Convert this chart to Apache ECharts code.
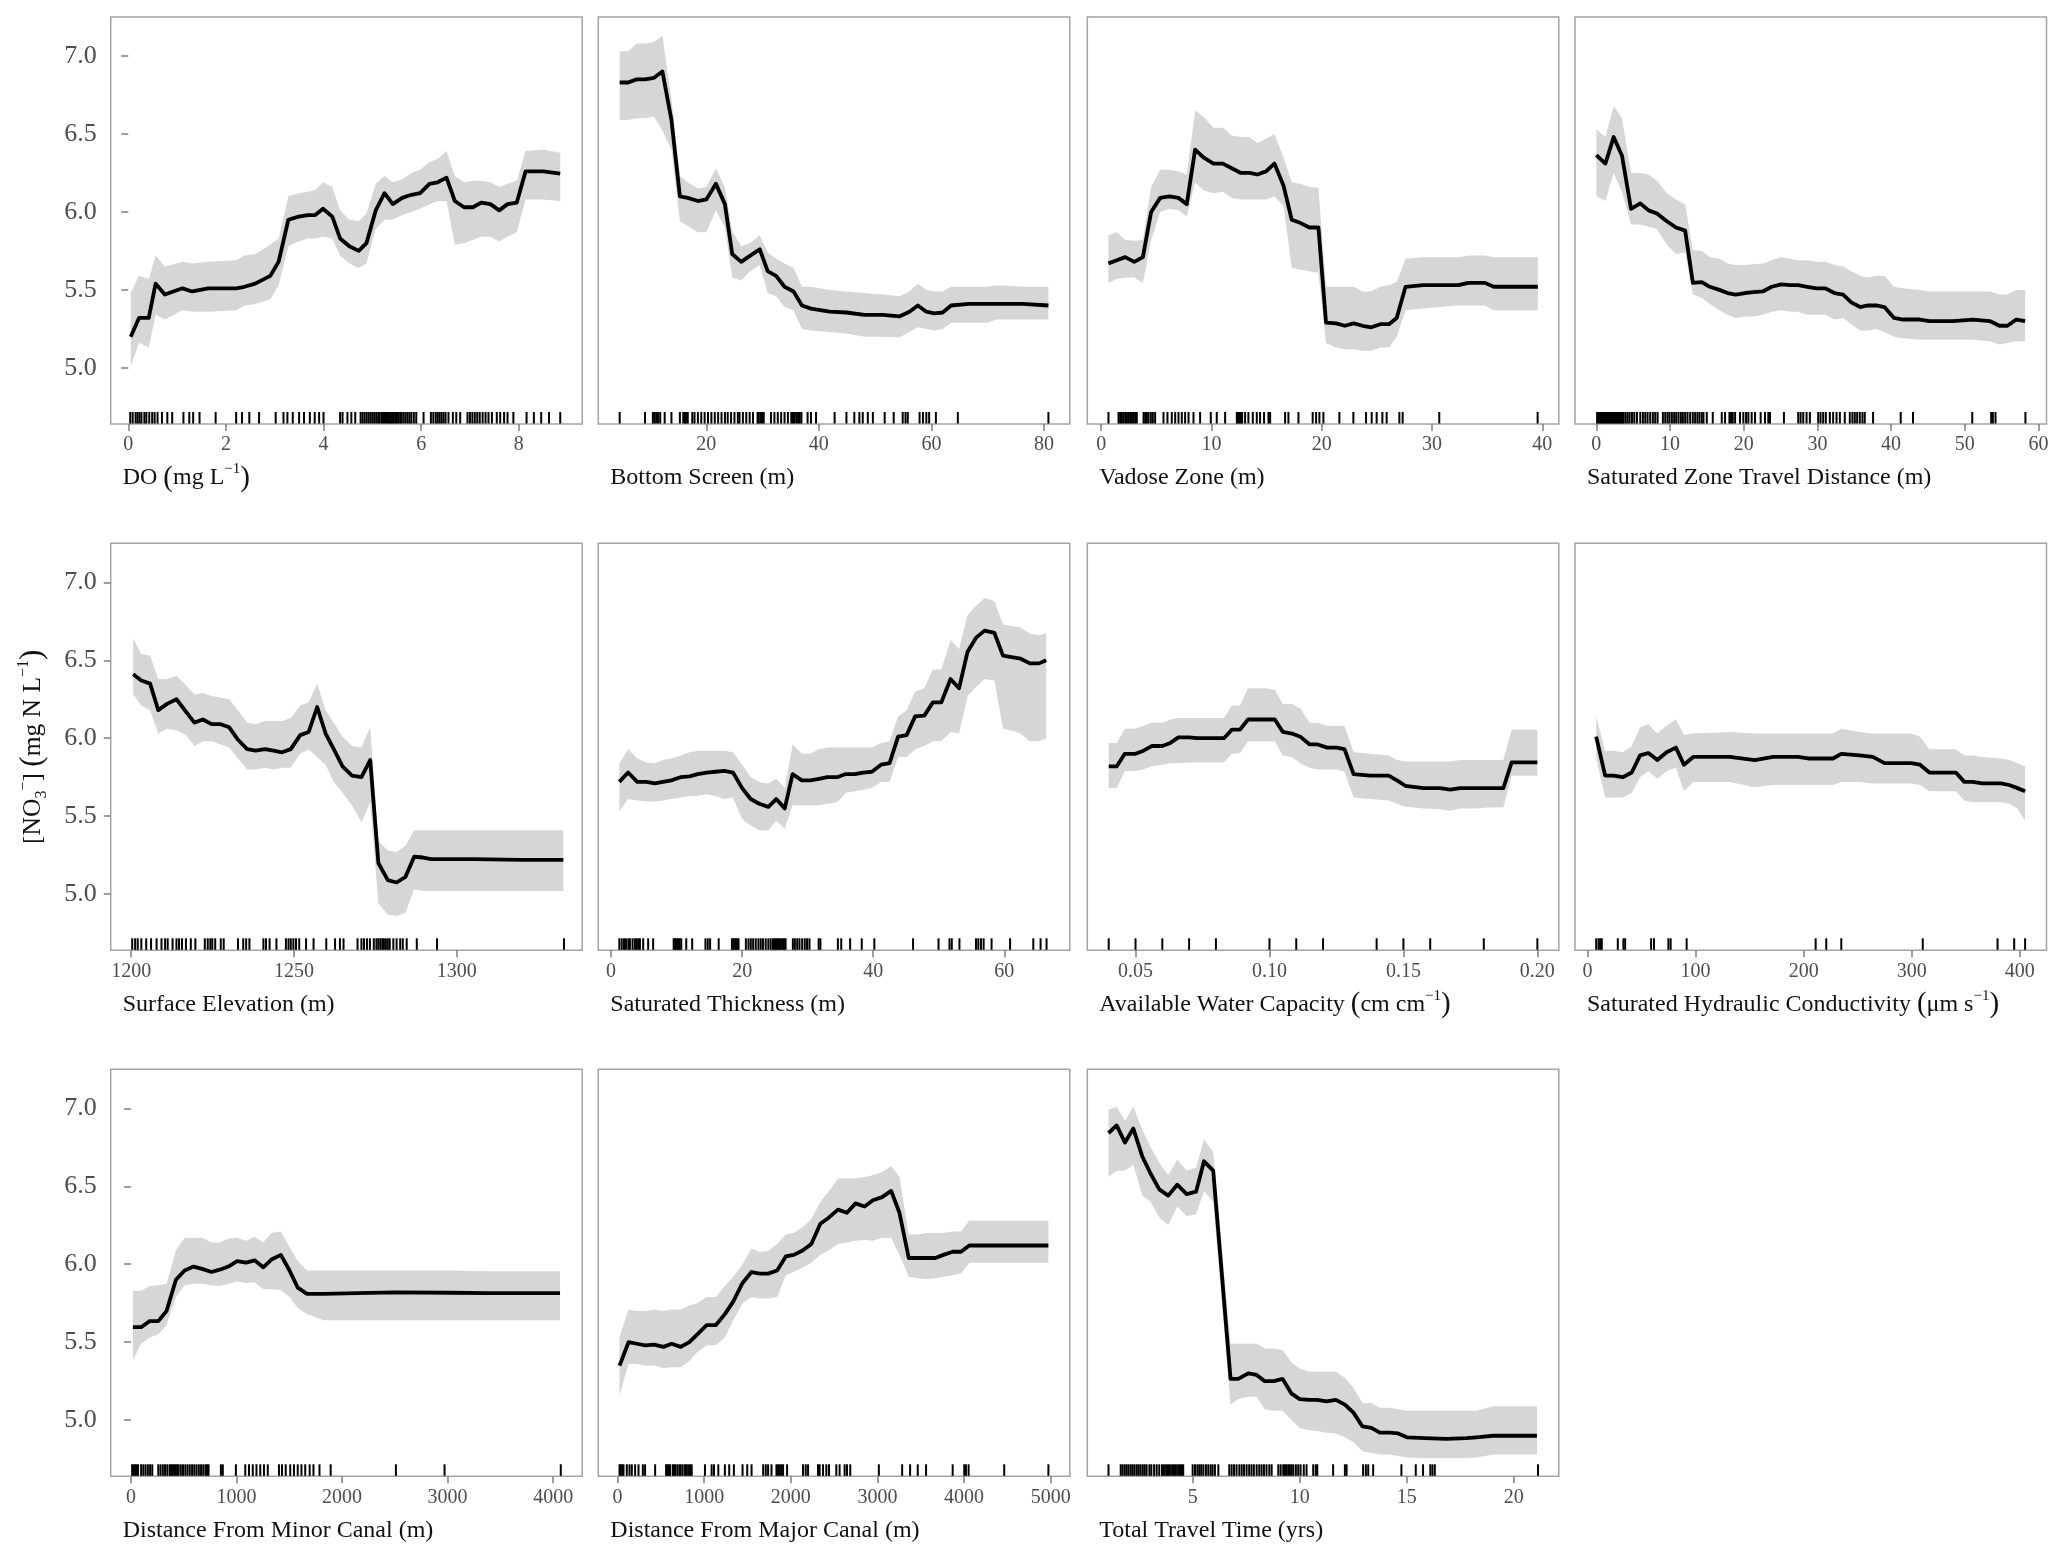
<!DOCTYPE html>
<html><head><meta charset="utf-8">
<script src="https://cdn.jsdelivr.net/npm/echarts@6/dist/echarts.min.js"></script>
<style>html,body{margin:0;padding:0;background:#fff}#c{width:2067px;height:1561px}</style>
</head><body><div id="c"></div>
<script>
// ---------------- DATA ----------------
const yTicks = [5.0, 5.5, 6.0, 6.5, 7.0];
const Y_MIN = 4.64, Y_MAX = 7.25;

// 1. DO
const doX = [0.05,0.22,0.42,0.56,0.75,1.11,1.31,1.64,2.21,2.38,2.60,2.91,3.08,3.28,3.49,3.68,3.83,3.99,4.18,4.34,4.53,4.72,4.88,5.07,5.25,5.42,5.61,5.80,5.98,6.17,6.34,6.52,6.69,6.88,7.06,7.23,7.42,7.60,7.77,7.96,8.14,8.50,8.85];
const doFit = [5.20,5.32,5.32,5.54,5.47,5.51,5.49,5.51,5.51,5.52,5.54,5.59,5.68,5.95,5.97,5.98,5.98,6.02,5.97,5.83,5.78,5.75,5.80,6.01,6.12,6.05,6.09,6.11,6.12,6.18,6.19,6.22,6.07,6.03,6.03,6.06,6.05,6.01,6.05,6.06,6.26,6.26,6.245];
const doUp = [5.48,5.59,5.57,5.72,5.65,5.68,5.67,5.68,5.69,5.72,5.73,5.79,5.83,6.10,6.12,6.13,6.14,6.19,6.16,6.01,5.95,5.94,5.99,6.18,6.23,6.19,6.21,6.25,6.27,6.32,6.34,6.39,6.23,6.19,6.20,6.20,6.19,6.16,6.18,6.20,6.39,6.40,6.38];
const doLo = [5.01,5.16,5.13,5.34,5.31,5.37,5.36,5.36,5.37,5.40,5.41,5.44,5.53,5.78,5.81,5.83,5.83,5.84,5.83,5.72,5.67,5.64,5.67,5.89,5.95,5.95,5.98,6.00,6.02,6.05,6.07,6.07,5.79,5.80,5.82,5.84,5.84,5.81,5.84,5.87,6.08,6.08,6.07];
const doRug = [0.04,0.09,0.15,0.19,0.23,0.27,0.33,0.37,0.43,0.49,0.54,0.6,0.69,0.8,0.9,1.13,1.25,1.33,1.46,1.79,2.21,2.33,2.48,2.68,3.02,3.18,3.26,3.37,3.5,3.6,3.72,3.82,3.91,4.0,4.34,4.39,4.49,4.57,4.65,4.76,4.8,4.84,4.88,4.92,4.96,5.0,5.04,5.08,5.12,5.15,5.19,5.22,5.26,5.29,5.32,5.35,5.38,5.41,5.44,5.47,5.5,5.53,5.57,5.6,5.64,5.68,5.72,5.76,5.8,5.85,5.9,6.05,6.2,6.25,6.3,6.34,6.38,6.42,6.46,6.5,6.56,6.65,6.72,6.8,6.95,7.0,7.05,7.1,7.15,7.2,7.26,7.32,7.38,7.45,7.55,7.62,7.7,7.77,7.89,8.16,8.31,8.46,8.62,8.85];
const doTicks = [0,2,4,6,8];

// 2. Bottom Screen
const bsX = [4.6,6.1,7.6,9.1,10.7,12.2,13.8,15.3,16.7,18.5,20.0,21.7,23.3,24.6,26.2,27.8,29.5,30.9,32.4,33.9,35.5,37.0,38.6,41.9,44.9,48.1,51.4,54.3,56.1,57.6,59.1,60.5,62.0,63.5,66.7,70.0,71.5,76.2,80.8];
const bsFit = [6.83,6.83,6.85,6.85,6.86,6.90,6.59,6.10,6.09,6.07,6.08,6.18,6.05,5.73,5.68,5.72,5.76,5.62,5.59,5.52,5.49,5.40,5.38,5.36,5.355,5.34,5.34,5.33,5.36,5.40,5.36,5.35,5.355,5.40,5.41,5.41,5.41,5.41,5.40];
const bsUp = [7.03,7.03,7.08,7.08,7.09,7.13,6.72,6.23,6.19,6.15,6.16,6.28,6.16,5.88,5.78,5.80,5.85,5.74,5.70,5.67,5.64,5.52,5.52,5.50,5.49,5.48,5.47,5.46,5.49,5.54,5.50,5.49,5.49,5.52,5.52,5.52,5.53,5.52,5.52];
const bsLo = [6.59,6.59,6.60,6.60,6.61,6.52,6.40,5.94,5.91,5.87,5.87,6.01,5.90,5.58,5.56,5.62,5.66,5.48,5.46,5.39,5.37,5.25,5.24,5.23,5.22,5.20,5.20,5.195,5.23,5.26,5.25,5.24,5.25,5.29,5.29,5.29,5.31,5.31,5.31];
const bsRug = [4.6,9.1,10.5,10.8,11.1,11.4,11.8,12.6,13.8,15.3,15.9,16.2,16.4,16.7,17.5,17.9,18.5,19.1,19.7,20.3,20.9,21.5,22.1,22.7,23.3,23.8,24.4,25.0,25.6,25.9,26.5,27.1,27.7,28.3,29.1,29.3,29.6,29.9,30.2,31.5,32.1,32.7,33.3,33.9,34.5,35.1,35.4,35.7,36.0,36.3,36.6,36.9,38.0,38.6,39.5,42.8,44.9,46.3,47.2,47.8,48.7,49.6,51.7,53.3,54.9,55.4,55.8,57.9,58.5,59.1,59.6,60.8,64.7,80.8];
const bsTicks = [20,40,60,80];

// 3. Vadose Zone
const vzX = [0.66,1.42,2.18,3.0,3.78,4.53,5.35,6.19,7.0,7.76,8.52,9.27,10.18,11.03,11.84,12.66,13.44,14.17,14.95,15.71,16.53,17.28,18.04,18.88,19.70,20.39,21.3,22.1,22.9,23.7,24.5,25.3,26.1,26.8,27.6,29.2,30.7,32.4,33.3,34.8,35.6,37.4,39.6];
const vzFit = [5.67,5.69,5.71,5.68,5.71,6.00,6.09,6.10,6.09,6.05,6.40,6.35,6.31,6.31,6.28,6.25,6.25,6.24,6.26,6.31,6.17,5.95,5.93,5.90,5.90,5.29,5.285,5.27,5.285,5.27,5.26,5.28,5.28,5.32,5.52,5.53,5.53,5.53,5.545,5.545,5.52,5.52,5.52];
const vzUp = [5.85,5.87,5.82,5.815,5.82,6.16,6.27,6.27,6.26,6.24,6.65,6.61,6.54,6.54,6.49,6.48,6.48,6.44,6.47,6.50,6.35,6.19,6.18,6.16,6.155,5.52,5.52,5.52,5.52,5.49,5.49,5.52,5.53,5.55,5.70,5.71,5.71,5.71,5.72,5.72,5.71,5.71,5.71];
const vzLo = [5.545,5.57,5.58,5.58,5.545,5.82,6.00,6.02,6.01,5.97,6.19,6.14,6.12,6.13,6.09,6.08,6.08,6.08,6.08,6.10,6.04,5.64,5.63,5.62,5.61,5.16,5.13,5.12,5.12,5.11,5.11,5.13,5.13,5.20,5.37,5.38,5.39,5.40,5.40,5.40,5.37,5.37,5.37];
const vzRug = [0.66,1.57,1.72,1.87,2.02,2.18,2.33,2.48,2.63,2.78,2.93,3.08,3.23,3.84,3.99,4.14,4.29,4.5,4.68,4.89,5.65,6.01,6.4,6.71,7.01,7.31,7.61,7.92,8.37,8.97,9.94,10.48,11.24,12.3,12.42,12.54,12.66,12.78,13.05,13.35,13.75,14.11,14.41,14.77,15.17,15.32,16.68,16.98,17.89,19.18,19.49,19.79,20.15,21.6,22.87,24.02,24.53,24.98,25.5,25.89,27.04,27.34,30.66,39.58];
const vzTicks = [0,10,20,30,40];

// 4. Saturated Zone Travel Distance
const szX = [0,1.22,2.35,3.48,4.7,5.96,7.09,8.22,9.57,10.8,12.05,13.1,14.3,15.4,16.7,17.8,18.9,20.2,21.3,22.6,23.8,25.1,26.3,27.4,28.6,29.9,31.1,32.3,33.5,34.6,35.8,36.9,38.0,39.1,40.4,41.6,43.9,45.2,48.4,51.1,53.4,54.7,55.8,57.0,58.2];
const szFit = [6.365,6.31,6.48,6.36,6.02,6.055,6.01,5.99,5.94,5.90,5.88,5.545,5.55,5.52,5.50,5.48,5.47,5.48,5.485,5.49,5.52,5.535,5.53,5.53,5.52,5.51,5.51,5.48,5.47,5.42,5.39,5.40,5.40,5.39,5.32,5.31,5.31,5.30,5.30,5.31,5.30,5.27,5.27,5.31,5.30];
const szUp = [6.53,6.48,6.68,6.60,6.25,6.25,6.24,6.20,6.12,6.08,6.05,5.755,5.75,5.71,5.70,5.67,5.66,5.66,5.665,5.67,5.69,5.71,5.70,5.69,5.69,5.68,5.68,5.66,5.65,5.62,5.59,5.58,5.59,5.59,5.52,5.51,5.50,5.49,5.49,5.49,5.49,5.47,5.47,5.50,5.50];
const szLo = [6.10,6.07,6.25,6.13,5.92,5.92,5.905,5.89,5.79,5.73,5.74,5.47,5.45,5.41,5.37,5.34,5.32,5.33,5.33,5.34,5.36,5.37,5.36,5.36,5.34,5.34,5.34,5.31,5.32,5.28,5.24,5.24,5.25,5.23,5.20,5.19,5.18,5.18,5.18,5.18,5.17,5.15,5.16,5.17,5.17];
const szRug = [0.1,0.27,0.45,0.63,0.81,0.99,1.17,1.35,1.53,1.72,1.9,2.08,2.26,2.44,2.62,2.8,2.98,3.16,3.34,3.52,3.7,3.97,4.24,4.51,4.83,5.15,5.51,5.96,6.32,6.64,6.95,7.31,7.67,7.99,8.31,9.03,9.35,9.66,9.93,10.25,10.56,10.84,11.15,11.47,11.74,12.05,12.37,12.73,13.09,13.41,13.72,14.0,14.31,14.54,14.99,15.8,17.02,17.47,18.06,18.28,18.51,18.83,19.5,19.95,20.32,20.63,21.08,21.54,22.3,22.89,23.34,23.57,25.46,27.4,27.72,28.08,28.53,28.98,30.11,30.43,30.79,31.15,31.69,32.14,32.6,33.05,33.72,34.4,34.76,35.08,35.4,35.76,36.12,36.43,37.56,41.31,42.98,51.02,53.59,53.82,54.18,58.24];
const szTicks = [0,10,20,30,40,50,60];

// 5. Surface Elevation
const seX = [1200.6,1203.1,1205.8,1208.3,1211.0,1213.9,1216.8,1219.4,1222.0,1224.7,1227.5,1230.1,1232.8,1235.6,1238.2,1241.1,1243.7,1246.3,1249.0,1251.9,1254.5,1257.1,1259.7,1262.2,1264.9,1267.8,1270.7,1273.4,1275.9,1278.8,1281.5,1284.2,1286.9,1289.6,1292.1,1304.9,1319.9,1332.7];
const seFit = [6.41,6.37,6.35,6.18,6.22,6.25,6.17,6.10,6.12,6.09,6.09,6.07,5.99,5.93,5.92,5.93,5.92,5.91,5.93,6.02,6.04,6.20,6.03,5.93,5.82,5.76,5.75,5.86,5.20,5.09,5.075,5.11,5.24,5.235,5.225,5.225,5.22,5.22];
const seUp = [6.64,6.54,6.53,6.38,6.38,6.40,6.34,6.28,6.29,6.27,6.26,6.25,6.18,6.10,6.09,6.11,6.11,6.11,6.13,6.21,6.23,6.35,6.18,6.10,6.01,5.95,5.94,6.07,5.34,5.28,5.27,5.31,5.41,5.41,5.41,5.41,5.41,5.41];
const seLo = [6.28,6.21,6.18,6.03,6.06,6.05,6.02,5.95,5.98,5.98,5.96,5.94,5.87,5.80,5.80,5.81,5.80,5.81,5.81,5.90,5.93,5.88,5.83,5.72,5.65,5.57,5.46,5.59,4.94,4.87,4.86,4.88,5.03,5.02,5.02,5.02,5.02,5.02];
const seRug = [1200.3,1201.2,1202.0,1203.1,1204.6,1206.1,1207.8,1209.3,1210.4,1211.2,1212.7,1213.9,1214.7,1215.6,1216.8,1218.3,1219.7,1222.6,1223.5,1224.3,1224.9,1225.8,1227.5,1228.4,1232.8,1234.4,1235.3,1236.3,1240.6,1241.4,1242.5,1244.6,1247.5,1248.3,1249.0,1249.8,1250.6,1251.6,1253.7,1256.0,1259.9,1262.6,1264.1,1265.2,1269.5,1270.7,1271.5,1272.4,1273.3,1274.5,1275.3,1275.9,1276.5,1277.1,1277.6,1278.2,1278.8,1279.4,1280.5,1281.5,1282.6,1283.4,1284.6,1287.7,1293.9,1332.9];
const seTicks = [1200,1250,1300];

// 6. Saturated Thickness
const stX = [1.26,2.6,4.0,5.4,6.7,7.9,9.2,10.6,12.0,13.2,14.6,15.9,17.3,18.6,20.0,21.3,22.6,24.0,25.2,26.5,27.7,29.1,30.4,31.7,33.0,34.5,35.8,37.2,38.5,39.8,41.2,42.5,43.8,45.1,46.4,47.8,49.1,50.4,51.8,53.1,54.4,55.7,57.0,58.5,59.8,61.1,62.5,63.9,65.3,66.4];
const stFit = [5.72,5.78,5.72,5.72,5.71,5.72,5.73,5.75,5.755,5.77,5.78,5.785,5.79,5.78,5.68,5.61,5.58,5.56,5.61,5.55,5.77,5.73,5.73,5.74,5.75,5.75,5.77,5.77,5.78,5.785,5.83,5.84,6.01,6.02,6.14,6.145,6.23,6.23,6.38,6.32,6.555,6.645,6.69,6.675,6.53,6.52,6.51,6.48,6.48,6.50];
const stUp = [5.84,5.93,5.87,5.845,5.84,5.86,5.87,5.89,5.91,5.92,5.92,5.92,5.92,5.91,5.83,5.75,5.72,5.71,5.74,5.68,5.96,5.90,5.90,5.93,5.94,5.94,5.94,5.94,5.94,5.94,5.97,5.98,6.14,6.18,6.30,6.32,6.44,6.44,6.63,6.57,6.79,6.85,6.90,6.88,6.73,6.72,6.71,6.67,6.66,6.675];
const stLo = [5.53,5.61,5.60,5.595,5.595,5.60,5.61,5.62,5.63,5.63,5.64,5.63,5.61,5.62,5.48,5.44,5.41,5.41,5.47,5.42,5.57,5.57,5.57,5.57,5.58,5.59,5.65,5.66,5.67,5.68,5.72,5.72,5.88,5.88,5.93,5.95,5.98,5.98,6.04,6.03,6.27,6.33,6.38,6.37,6.06,6.05,6.03,5.98,5.98,6.00];
const stRug = [1.26,1.62,1.97,2.27,2.63,2.88,3.28,3.64,3.89,4.14,4.4,4.9,5.66,6.42,9.55,9.7,9.85,10.06,10.26,10.46,10.71,11.47,12.38,14.4,14.75,15.11,16.42,18.44,18.65,18.85,19.05,19.25,19.45,20.57,20.97,21.32,21.68,22.08,22.49,22.84,23.19,23.6,24.0,24.36,24.71,25.01,25.21,25.42,25.62,25.87,26.12,26.38,26.63,27.74,28.04,28.4,28.75,29.16,29.56,29.91,30.27,31.68,31.94,34.61,35.12,36.48,38.25,40.17,46.08,49.97,51.64,51.99,53.16,55.68,56.04,56.44,56.85,58.06,60.89,64.43,65.54,66.45];
const stTicks = [0,20,40,60];

// 7. Available Water Capacity
const awX = [0.040,0.043,0.046,0.050,0.053,0.056,0.060,0.063,0.066,0.070,0.073,0.0765,0.080,0.083,0.086,0.089,0.092,0.0953,0.0988,0.102,0.105,0.1084,0.1115,0.115,0.118,0.1215,0.125,0.128,0.1314,0.1376,0.1445,0.1476,0.1507,0.1575,0.1637,0.1675,0.1712,0.1774,0.1811,0.1873,0.1904,0.200];
const awFit = [5.82,5.82,5.90,5.90,5.92,5.95,5.95,5.97,6.005,6.005,6.00,6.00,6.00,6.00,6.055,6.055,6.12,6.12,6.12,6.12,6.04,6.03,6.01,5.96,5.96,5.94,5.94,5.93,5.77,5.76,5.76,5.73,5.695,5.68,5.68,5.67,5.68,5.68,5.68,5.68,5.845,5.845];
const awUp = [5.97,5.97,6.06,6.06,6.08,6.10,6.10,6.12,6.13,6.13,6.13,6.13,6.13,6.13,6.21,6.21,6.32,6.32,6.32,6.31,6.22,6.22,6.19,6.10,6.10,6.08,6.08,6.08,5.91,5.90,5.89,5.86,5.85,5.85,5.85,5.85,5.86,5.86,5.86,5.86,6.055,6.055];
const awLo = [5.68,5.68,5.79,5.79,5.80,5.82,5.83,5.84,5.84,5.845,5.845,5.845,5.845,5.845,5.90,5.905,5.98,5.98,5.98,5.98,5.89,5.88,5.84,5.81,5.80,5.80,5.80,5.785,5.62,5.61,5.60,5.58,5.56,5.55,5.545,5.535,5.55,5.55,5.555,5.555,5.76,5.76];
const awRug = [0.040,0.050,0.060,0.070,0.080,0.100,0.110,0.120,0.140,0.150,0.160,0.180,0.200];
const awTicks = [0.05,0.10,0.15,0.20];

// 8. Saturated Hydraulic Conductivity
const ksX = [8,16.3,24,32.6,40.9,48.6,56.3,64.6,73.2,81.8,89.2,97.8,131.7,154.8,171.7,194.8,204.0,227.1,234.8,251.7,264.0,274.8,299.4,307.7,316.3,340.9,348.6,356.3,365.5,382.5,390.2,397.8,404.9];
const ksFit = [6.01,5.76,5.76,5.75,5.78,5.89,5.905,5.86,5.91,5.94,5.83,5.88,5.88,5.86,5.88,5.88,5.87,5.87,5.90,5.89,5.88,5.84,5.84,5.83,5.78,5.78,5.72,5.72,5.71,5.71,5.70,5.68,5.66];
const ksUp = [6.14,5.92,5.92,5.91,5.95,6.07,6.09,6.03,6.08,6.12,6.02,6.03,6.04,6.03,6.03,6.03,6.03,6.03,6.06,6.04,6.03,6.03,6.03,6.01,5.93,5.93,5.89,5.89,5.88,5.87,5.86,5.84,5.82];
const ksLo = [5.87,5.62,5.62,5.62,5.65,5.75,5.79,5.74,5.79,5.81,5.66,5.72,5.72,5.685,5.70,5.70,5.70,5.70,5.72,5.72,5.71,5.71,5.71,5.70,5.66,5.66,5.60,5.59,5.59,5.59,5.58,5.55,5.47];
const ksRug = [8,10.2,11.7,13.2,28,33.2,34.8,58.8,61.5,74.8,76.9,91.7,211.1,220.9,234.8,310.2,379.4,394.8,404.9];
const ksTicks = [0,100,200,300,400];

// 9. Distance From Minor Canal
const mnX = [18,96,177,259,337,426,508,593,674,763,841,923,1005,1090,1171,1253,1331,1420,1502,1580,1668,1828,2148,2503,3035,3390,4065];
const mnFit = [5.596,5.596,5.635,5.635,5.70,5.90,5.96,5.985,5.97,5.95,5.965,5.985,6.02,6.01,6.025,5.98,6.03,6.06,5.96,5.85,5.81,5.81,5.815,5.82,5.817,5.815,5.815];
const mnUp = [5.83,5.83,5.86,5.865,5.875,6.09,6.17,6.17,6.17,6.14,6.14,6.165,6.17,6.15,6.175,6.14,6.20,6.21,6.11,6.02,5.96,5.96,5.96,5.96,5.96,5.955,5.955];
const mnLo = [5.385,5.49,5.53,5.55,5.61,5.79,5.865,5.875,5.875,5.865,5.86,5.875,5.89,5.88,5.885,5.84,5.84,5.835,5.79,5.72,5.68,5.64,5.64,5.64,5.64,5.64,5.64];
const mnRug = [11,25,39,53,67,96,117,138,160,181,202,259,280,302,323,344,366,380,394,408,422,437,451,472,493,515,536,557,579,600,621,643,664,685,706,721,735,852,870,994,1083,1118,1154,1189,1225,1260,1296,1402,1431,1466,1509,1544,1580,1615,1651,1693,1729,1786,1892,2510,2971,4072];
const mnTicks = [0,1000,2000,3000,4000];

// 10. Distance From Major Canal
const mjX = [23,127,223,318,422,530,625,729,829,921,1028,1136,1239,1335,1443,1546,1642,1738,1842,1942,2034,2141,2237,2341,2441,2544,2648,2747,2851,2947,3054,3158,3254,3361,3465,3561,3668,3761,3868,3964,4060,4290,4597,4973];
const mjFit = [5.35,5.50,5.49,5.48,5.485,5.47,5.49,5.47,5.50,5.55,5.61,5.61,5.68,5.76,5.88,5.95,5.94,5.94,5.96,6.05,6.06,6.09,6.13,6.26,6.30,6.35,6.33,6.39,6.37,6.41,6.43,6.47,6.33,6.04,6.04,6.04,6.04,6.06,6.08,6.08,6.12,6.12,6.12,6.12];
const mjUp = [5.535,5.71,5.70,5.70,5.71,5.70,5.71,5.71,5.735,5.75,5.79,5.79,5.86,5.92,6.00,6.10,6.08,6.085,6.13,6.19,6.20,6.24,6.29,6.40,6.47,6.55,6.55,6.55,6.56,6.57,6.59,6.63,6.56,6.19,6.19,6.20,6.20,6.20,6.21,6.21,6.28,6.28,6.28,6.28];
const mjLo = [5.16,5.36,5.36,5.35,5.35,5.335,5.34,5.34,5.38,5.435,5.48,5.48,5.53,5.64,5.75,5.79,5.78,5.78,5.79,5.93,5.95,5.98,6.01,6.06,6.09,6.13,6.14,6.15,6.155,6.15,6.17,6.17,6.06,5.92,5.91,5.905,5.91,5.92,5.93,5.94,6.01,6.01,6.01,6.01];
const mjRug = [23,38,54,69,107,138,165,203,242,292,318,434,560,576,591,606,637,652,668,691,714,729,752,779,798,817,837,856,1009,1086,1113,1163,1239,1289,1343,1443,1497,1547,1681,1711,1738,1777,1834,1853,1873,1892,1911,1957,2141,2172,2199,2314,2333,2372,2410,2441,2525,2563,2621,2648,2686,3016,3285,3377,3465,3561,3868,4002,4021,4052,4463,4973];
const mjTicks = [0,1000,2000,3000,4000,5000];

// 11. Total Travel Time
const ttX = [1.07,1.45,1.84,2.23,2.65,3.04,3.44,3.86,4.28,4.72,5.16,5.53,5.96,6.77,7.13,7.60,7.99,8.37,8.79,9.20,9.62,10.0,10.44,10.82,11.25,11.69,12.11,12.50,12.93,13.35,13.74,14.18,14.6,15.0,15.84,16.85,17.78,18.25,19.03,19.96,21.08];
const ttFit = [6.84,6.89,6.78,6.87,6.69,6.58,6.48,6.44,6.51,6.45,6.465,6.66,6.60,5.265,5.265,5.30,5.29,5.25,5.25,5.265,5.17,5.135,5.13,5.13,5.12,5.13,5.10,5.05,4.96,4.95,4.92,4.92,4.915,4.89,4.885,4.88,4.885,4.89,4.90,4.90,4.90];
const ttUp = [6.99,7.01,6.92,7.01,6.86,6.75,6.65,6.57,6.67,6.60,6.62,6.80,6.72,5.49,5.49,5.49,5.49,5.46,5.46,5.45,5.37,5.33,5.31,5.31,5.31,5.31,5.27,5.21,5.11,5.11,5.08,5.08,5.07,5.06,5.06,5.06,5.06,5.06,5.09,5.09,5.09];
const ttLo = [6.56,6.60,6.60,6.64,6.44,6.40,6.30,6.25,6.37,6.31,6.32,6.47,6.40,5.10,5.135,5.15,5.15,5.07,5.06,5.06,5.00,4.95,4.935,4.93,4.92,4.915,4.89,4.86,4.80,4.79,4.78,4.78,4.77,4.76,4.755,4.755,4.755,4.76,4.78,4.78,4.78];
const ttRug = [1.07,1.64,1.73,1.83,1.92,2.01,2.11,2.2,2.29,2.39,2.48,2.57,2.67,2.76,2.85,2.98,3.07,3.2,3.32,3.44,3.57,3.66,3.76,3.85,3.94,4.04,4.13,4.22,4.32,4.41,4.5,4.56,5.0,5.11,5.22,5.31,5.4,5.5,5.62,5.73,5.84,5.93,6.04,6.2,6.71,6.82,6.93,7.05,7.18,7.29,7.4,7.52,7.64,7.75,7.86,7.99,8.11,8.22,8.33,8.45,8.58,8.69,9.0,9.11,9.23,9.31,9.39,9.47,9.54,9.62,9.7,9.82,9.93,10.04,10.19,10.32,10.63,10.75,10.82,11.56,12.11,12.19,12.96,13.09,13.2,13.43,14.75,15.42,15.76,16.1,16.2,16.31,21.13];
const ttTicks = [5,10,15,20];

// axis titles (rich text: s = superscript, d = subscript, b = large paren)
const titles = [
  'DO {b|(}mg L{s|−1}{b|)}',
  'Bottom Screen (m)',
  'Vadose Zone (m)',
  'Saturated Zone Travel Distance (m)',
  'Surface Elevation (m)',
  'Saturated Thickness (m)',
  'Available Water Capacity {b|(}cm cm{s|−1}{b|)}',
  'Saturated Hydraulic Conductivity {b|(}μm s{s|−1}{b|)}',
  'Distance From Minor Canal (m)',
  'Distance From Major Canal (m)',
  'Total Travel Time (yrs)'
];
const yTitle = '[NO{d|3}{s|−}] {b|(}mg N L{s|−1}{b|)}';

// ---------------- LAYOUT / STYLE ----------------
const FONT = '"Liberation Serif","Times New Roman",serif';
const COL_L = [110.7, 598.3, 1087.3, 1575];
const ROW_T = [17, 543.3, 1069.3];
const PW = 471.5, PH = 407;
const RUG_LEN = 12;

const panels = [
  {x:doX, f:doFit, u:doUp, l:doLo, r:doRug, t:doTicks, min:-0.36, max:9.3, dec:0},
  {x:bsX, f:bsFit, u:bsUp, l:bsLo, r:bsRug, t:bsTicks, min:0.8, max:84.6, dec:0},
  {x:vzX, f:vzFit, u:vzUp, l:vzLo, r:vzRug, t:vzTicks, min:-1.26, max:41.5, dec:0},
  {x:szX, f:szFit, u:szUp, l:szLo, r:szRug, t:szTicks, min:-2.9, max:61.1, dec:0},
  {x:seX, f:seFit, u:seUp, l:seLo, r:seRug, t:seTicks, min:1193.7, max:1338.5, dec:0},
  {x:stX, f:stFit, u:stUp, l:stLo, r:stRug, t:stTicks, min:-1.95, max:70.0, dec:0},
  {x:awX, f:awFit, u:awUp, l:awLo, r:awRug, t:awTicks, min:0.032, max:0.208, dec:2},
  {x:ksX, f:ksFit, u:ksUp, l:ksLo, r:ksRug, t:ksTicks, min:-11.6, max:424.7, dec:0},
  {x:mnX, f:mnFit, u:mnUp, l:mnLo, r:mnRug, t:mnTicks, min:-192, max:4275, dec:0},
  {x:mjX, f:mjFit, u:mjUp, l:mjLo, r:mjRug, t:mjTicks, min:-222, max:5220, dec:0},
  {x:ttX, f:ttFit, u:ttUp, l:ttLo, r:ttRug, t:ttTicks, min:0.08, max:22.1, dec:0}
];

const richStyles = {
  s: {fontSize: 15, fontFamily: FONT, fill: '#111', verticalAlign: 'top'},
  d: {fontSize: 15, fontFamily: FONT, fill: '#111', verticalAlign: 'bottom'},
  b: {fontSize: 29, fontFamily: FONT, fill: '#111', lineHeight: 32}
};

const grids = [], xAxes = [], yAxes = [], series = [], graphics = [];

panels.forEach((p, i) => {
  const col = i % 4, row = Math.floor(i / 4);
  const left = COL_L[col], top = ROW_T[row];
  grids.push({left: left, top: top, width: PW, height: PH, show: true,
    borderColor: '#a3a3a3', borderWidth: 1.5, backgroundColor: 'transparent', containLabel: false});
  xAxes.push({type: 'value', gridIndex: i, min: p.min, max: p.max,
    axisLine: {show: false}, splitLine: {show: false},
    axisTick: {show: true, length: 7, customValues: p.t, lineStyle: {color: '#7f7f7f', width: 1.5}},
    axisLabel: {customValues: p.t, color: '#4d4d4d', fontSize: 20, fontFamily: FONT, margin: 11,
      formatter: v => p.dec ? v.toFixed(p.dec) : String(v)}
  });
  const showY = col === 0;
  yAxes.push({type: 'value', gridIndex: i, min: Y_MIN, max: Y_MAX,
    axisLine: {show: false}, splitLine: {show: false},
    axisTick: {show: showY, length: 7, customValues: yTicks, lineStyle: {color: '#7f7f7f', width: 1.5}},
    axisLabel: {show: showY, customValues: yTicks, color: '#4d4d4d', fontSize: 26, fontFamily: FONT, margin: 14,
      formatter: v => v.toFixed(1)}
  });
  // confidence band
  series.push({type: 'custom', xAxisIndex: i, yAxisIndex: i, z: 1, silent: true, clip: false,
    data: p.x.map((v, k) => [v, p.l[k], p.u[k]]),
    renderItem: (params, api) => {
      if (params.dataIndex !== 0) return null;
      const pts = [];
      for (let k = 0; k < p.x.length; k++) pts.push(api.coord([p.x[k], p.u[k]]));
      for (let k = p.x.length - 1; k >= 0; k--) pts.push(api.coord([p.x[k], p.l[k]]));
      return {type: 'polygon', shape: {points: pts}, style: {fill: '#d6d6d6'}};
    }
  });
  // rug
  series.push({type: 'custom', xAxisIndex: i, yAxisIndex: i, z: 2, silent: true, clip: false,
    encode: {x: 0},
    data: p.r.map(v => [v]),
    renderItem: (params, api) => {
      const q = api.coord([api.value(0), Y_MIN]);
      return {type: 'line', shape: {x1: q[0], y1: q[1] - 0.5, x2: q[0], y2: q[1] - RUG_LEN},
        style: {stroke: '#000', lineWidth: 2}};
    }
  });
  // fitted line
  series.push({type: 'line', xAxisIndex: i, yAxisIndex: i, z: 3, silent: true,
    data: p.x.map((v, k) => [v, p.f[k]]), showSymbol: false, symbol: 'none',
    lineStyle: {color: '#000', width: 3.8, join: 'round'}
  });
  // x-axis title
  graphics.push({type: 'text', x: left + 12, y: top + PH + 54, silent: true,
    style: {text: titles[i], rich: richStyles, fontSize: 24, fontFamily: FONT, fill: '#111',
      align: 'left', verticalAlign: 'middle', lineHeight: 32}});
});

// y-axis title (middle row)
graphics.push({type: 'text', x: 33, y: ROW_T[1] + PH / 2, rotation: Math.PI / 2, silent: true,
  style: {text: yTitle, rich: {
      s: {fontSize: 16, fontFamily: FONT, fill: '#111', verticalAlign: 'top'},
      d: {fontSize: 16, fontFamily: FONT, fill: '#111', verticalAlign: 'bottom'},
      b: {fontSize: 31, fontFamily: FONT, fill: '#111', lineHeight: 34}
    }, fontSize: 25.5, fontFamily: FONT, fill: '#111',
    align: 'center', verticalAlign: 'middle', lineHeight: 34}});

const option = {
  animation: false,
  backgroundColor: '#ffffff',
  grid: grids, xAxis: xAxes, yAxis: yAxes, series: series, graphic: graphics
};

const chart = echarts.init(document.getElementById('c'), null, {renderer: 'canvas'});
chart.setOption(option);
</script></body></html>
